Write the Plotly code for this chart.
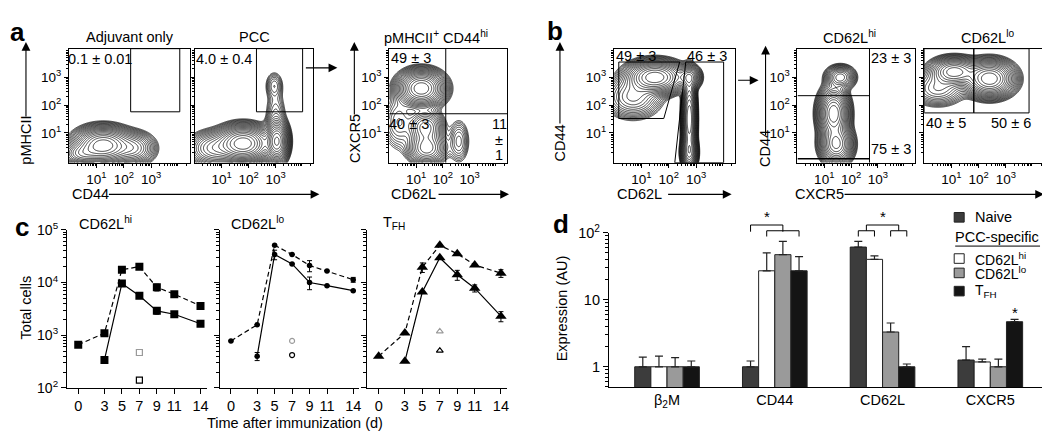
import numpy as np
import plotly.graph_objects as go

W, H = 1050, 432
FONT = "Liberation Sans, Arial, Helvetica, sans-serif"

# ------------------------------------------------------------------ data
# Flow-cytometry density blobs:
# (centre x, centre y, spread x, spread y, weight) in log10 fluorescence units
adj_blobs = [(1.25, 0.55, 0.48, 0.3, 1.0), (2.35, 0.45, 0.38, 0.28, 0.25), (0.45, 0.25, 0.35, 0.2, 0.3)]
pcc_blobs = [(1.8, 0.62, 0.45, 0.3, 1.0), (3.05, 0.7, 0.2, 0.35, 0.85), (2.95, 2.7, 0.17, 0.26, 0.06),
             (3.0, 1.7, 0.2, 0.45, 0.05), (0.7, 0.45, 0.45, 0.3, 0.22)]
tgate_blobs = [(1.2, 2.6, 0.4, 0.3, 1.0), (1.35, 1.2, 0.32, 0.3, 0.3), (1.4, 0.45, 0.35, 0.28, 0.3),
               (2.6, 0.7, 0.2, 0.4, 0.07), (0.35, 1.4, 0.3, 0.5, 0.08)]
b_blobs = [(1.5, 3.0, 0.48, 0.27, 1.0), (0.7, 2.3, 0.48, 0.36, 0.22), (2.75, 1.5, 0.12, 0.72, 0.8),
           (2.75, 0.3, 0.14, 0.28, 0.45), (2.75, 3.0, 0.2, 0.2, 0.35)]
hi_blobs = [(1.6, 3.0, 0.26, 0.2, 0.3), (1.35, 1.7, 0.26, 0.42, 1.0), (1.45, 0.6, 0.28, 0.33, 0.7)]
lo_blobs = [(1.1, 3.2, 0.42, 0.24, 0.6), (2.4, 2.95, 0.42, 0.3, 1.0), (0.5, 2.6, 0.48, 0.3, 0.16)]

flow_ticks = [1, 2, 3]
flow_ticktext = ["10<sup>1</sup>", "10<sup>2</sup>", "10<sup>3</sup>"]

# panel c: total cells vs day
days = [0, 3, 5, 7, 9, 11, 14]
days_solid = [3, 5, 7, 9, 11, 14]
hi_dash = [660, 1090, 17500, 20000, 8100, 6000, 3600]
hi_dash_err = [None, None, None, None, 1200, None, None]
hi_solid = [340, 9600, 5600, 2900, 2500, 1650]
hi_solid_err = [None, None, None, 400, None, None]
hi_open = [470, 140]
lo_dash = [780, 1580, 51000, 34000, 21000, 16500, 11300]
lo_dash_err = [None, None, None, None, 5000, None, 1200]
lo_solid = [400, 34000, 22500, 10000, 8700, 7000]
lo_solid_err = [70, 7000, None, 2700, None, None]
lo_open = [780, 420]
tfh_dash = [400, 1100, 19500, 51000, 35000, 21500, 15000]
tfh_dash_err = [None, None, 4000, None, None, None, 2500]
tfh_solid = [320, 6600, 29500, 14000, 7800, 2300]
tfh_solid_err = [None, None, None, 3000, 1200, 500]
tfh_open = [1180, 510]
c_ticks = [100, 1000, 10000, 100000]
c_ticktext = ["10<sup>2</sup>", "10<sup>3</sup>", "10<sup>4</sup>", "10<sup>5</sup>"]

# panel d: expression
genes = ["β<sub>2</sub>M", "CD44", "CD62L", "CXCR5"]
naive = [1.0, 1.0, 61, 1.26]
naive_err = [0.39, 0.22, 13, 0.74]
cd62lhi = [1.0, 27, 40, 1.18]
cd62lhi_err = [0.44, 23, 5, 0.12]
cd62llo = [1.0, 47, 3.3, 1.0]
cd62llo_err = [0.37, 27, 1.2, 0.3]
tfh = [1.0, 27, 1.0, 4.7]
tfh_err = [0.22, 17, 0.1, 0.4]
d_names = ["Naive", "CD62L<sup>hi</sup>", "CD62L<sup>lo</sup>", "T<sub>FH</sub>"]
d_colors = ["#3c3c3c", "#ffffff", "#9a9a9a", "#141414"]

# ------------------------------------------------------------------ helpers
def PX(x):
    return x / W


def PY(y):
    return 1 - y / H


def aid(i):
    return "" if i == 1 else str(i)


fig = go.Figure()
annotations = []
shapes = []
layout = dict(width=W, height=H, margin=dict(l=0, r=0, t=0, b=0), paper_bgcolor="white",
              plot_bgcolor="white", showlegend=False, font=dict(family=FONT, size=14, color="black"),
              barmode="group", bargap=0.4, bargroupgap=0)

TS = 14.5


def txt(x, y, s, size=TS, xa="center", ya="middle", angle=0):
    annotations.append(dict(x=PX(x), y=PY(y), xref="paper", yref="paper", text=s, showarrow=False,
                            xanchor=xa, yanchor=ya, textangle=angle,
                            font=dict(size=size, family=FONT, color="black")))


def arrow(x0, y0, x1, y1):
    annotations.append(dict(x=PX(x1), y=PY(y1), xref="paper", yref="paper", text="", showarrow=True,
                            ax=x0 - x1, ay=y0 - y1, axref="pixel", ayref="pixel", arrowhead=2,
                            arrowsize=1.6, arrowwidth=1.1, arrowcolor="black", standoff=0))


def seg(x0, y0, x1, y1, xref="paper", yref="paper", w=1.0):
    shapes.append(dict(type="line", x0=x0, y0=y0, x1=x1, y1=y1, xref=xref, yref=yref,
                       line=dict(color="black", width=w)))


# ------------------------------------------------------------------ flow panels
XR = [0, 4.4]
YR = [-0.07, 4.03]
minor_flow = [np.log10(k) + d for d in range(0, 5) for k in range(2, 10) if np.log10(k) + d < 4.4]
gx = np.linspace(XR[0], XR[1], 180)
gy = np.linspace(YR[0], YR[1], 180)
GX, GY = np.meshgrid(gx, gy)

flow_panels = [
    (61, 182, adj_blobs, True),
    (187, 306, pcc_blobs, False),
    (382, 500, tgate_blobs, True),
    (607, 728, b_blobs, True),
    (791, 909, hi_blobs, True),
    (918, 1038, lo_blobs, False),
]
for i, (x0, x1, blobs, ylab) in enumerate(flow_panels, start=1):
    D = np.zeros_like(GX)
    for cx, cy, sx, sy, w in blobs:
        D += w * np.exp(-((GX - cx) ** 2 / (2 * sx ** 2) + (GY - cy) ** 2 / (2 * sy ** 2)))
    Z = np.log10(D / D.max() + 1e-12)
    fig.add_trace(go.Contour(x=gx, y=gy, z=Z, xaxis="x" + aid(i), yaxis="y" + aid(i),
                             autocontour=False, contours=dict(start=-1.9, end=-0.02, size=0.1, coloring="lines"),
                             colorscale=[[0, "#111"], [1, "#111"]], line=dict(width=0.8, smoothing=1),
                             showscale=False, hoverinfo="skip"))
    common = dict(showline=True, mirror=True, linecolor="black", linewidth=1, ticks="outside", ticklen=4,
                  tickwidth=1, tickcolor="black", showgrid=False, zeroline=False, tickvals=flow_ticks,
                  ticktext=flow_ticktext, tickfont=dict(size=13.5),
                  minor=dict(tickmode="array", tickvals=minor_flow, ticks="outside", ticklen=2,
                             tickcolor="black", tickwidth=1))
    layout["xaxis" + aid(i)] = dict(domain=[PX(x0), PX(x1)], range=XR, anchor="y" + aid(i), **common)
    layout["yaxis" + aid(i)] = dict(domain=[PY(151), PY(32)], range=YR, anchor="x" + aid(i),
                                    showticklabels=ylab, **common)

# gates
def rect(i, xa, xb, ya, yb):
    shapes.append(dict(type="rect", x0=xa, x1=xb, y0=ya, y1=yb, xref="x" + aid(i), yref="y" + aid(i),
                       line=dict(color="black", width=1)))


def path(i, pts):
    p = "M " + " L ".join(f"{a},{b}" for a, b in pts) + " Z"
    shapes.append(dict(type="path", path=p, xref="x" + aid(i), yref="y" + aid(i),
                       line=dict(color="black", width=1)))


rect(1, 2.25, 4.04, 1.76, 4.03)
rect(2, 2.29, 4.0, 1.76, 4.03)
seg(2.11, YR[0], 2.11, YR[1], "x3", "y3")
seg(XR[0], 1.69, XR[1], 1.69, "x3", "y3")
path(4, [(0.18, 3.55), (2.4, 3.55), (1.82, 1.52), (0.18, 1.52)])
path(4, [(2.62, 3.55), (4.0, 3.55), (4.0, -0.07), (2.22, -0.07)])
seg(2.69, YR[0], 2.69, YR[1], "x5", "y5")
seg(XR[0], 2.34, 2.69, 2.34, "x5", "y5")
seg(XR[0], 0.07, 2.69, 0.07, "x5", "y5", 1.5)
rect(6, 0, 1.82, 1.72, 4.03)
rect(6, 1.82, 3.85, 1.72, 4.03)

# panel a / b texts
txt(10, 15, "<b>a</b>", 26)
txt(122, 20, "Adjuvant only")
txt(247, 20, "PCC")
txt(429, 20, "pMHCII<sup>+</sup> CD44<sup>hi</sup>")
txt(92, 43, "0.1 ± 0.01")
txt(216, 43, "4.0 ± 0.4")
txt(404, 42, "49 ± 3")
txt(402, 111, "40 ± 3")
txt(492, 111, "11")
txt(492, 127, "±")
txt(492, 143, "1")
txt(18, 127, "pMHCII", angle=-90)
arrow(18, 101, 18, 25)
txt(347, 126, "CXCR5", angle=-90)
arrow(347, 99, 347, 25)
txt(62, 184, "CD44", xa="left")
arrow(100, 184, 312, 184)
txt(382, 184, "CD62L", xa="left")
arrow(430, 184, 502, 184)
arrow(297, 52, 330, 52)

txt(548, 14, "<b>b</b>", 26)
txt(629, 40, "49 ± 3")
txt(700, 40, "46 ± 3")
txt(553, 130, "CD44", angle=-90)
arrow(553, 108, 553, 25)
txt(608, 184, "CD62L", xa="left")
arrow(660, 184, 725, 184)
arrow(730, 65, 752, 65)
txt(843, 20, "CD62L<sup>hi</sup>")
txt(981, 20, "CD62L<sup>lo</sup>")
txt(759, 136, "CD44", angle=-90)
arrow(759, 120, 759, 29)
txt(885, 42, "23 ± 3")
txt(885, 137, "75 ± 3")
txt(940, 110, "40 ± 5")
txt(1005, 110, "50 ± 6")
txt(786, 184, "CXCR5", xa="left")
arrow(837, 184, 1038, 184)

# ------------------------------------------------------------------ panel c
c_minor = [k * 10 ** d for d in range(2, 5) for k in range(2, 10)]
c_panels = [
    (7, 59, 199, "square", 8, 6, hi_dash, hi_dash_err, hi_solid, hi_solid_err, hi_open, True),
    (8, 212, 352, "circle", 5.5, 5, lo_dash, lo_dash_err, lo_solid, lo_solid_err, lo_open, False),
    (9, 360, 500, "triangle-up", 10, 6, tfh_dash, tfh_dash_err, tfh_solid, tfh_solid_err, tfh_open, False),
]
for i, x0, x1, sym, msz, osz, dsh, dsh_e, sol, sol_e, opn, ylab in c_panels:
    xa, ya = "x" + aid(i), "y" + aid(i)
    fig.add_trace(go.Scatter(x=days, y=dsh, xaxis=xa, yaxis=ya, mode="lines+markers",
                             line=dict(color="black", width=1.2, dash="5px,3px"),
                             marker=dict(symbol=sym, size=msz, color="black"),
                             error_y=dict(type="data", array=dsh_e, visible=True, color="black",
                                          thickness=1, width=2.5), hoverinfo="skip"))
    fig.add_trace(go.Scatter(x=days_solid, y=sol, xaxis=xa, yaxis=ya, mode="lines+markers",
                             line=dict(color="black", width=1.2),
                             marker=dict(symbol=sym, size=msz, color="black"),
                             error_y=dict(type="data", array=sol_e, visible=True, color="black",
                                          thickness=1, width=2.5), hoverinfo="skip"))
    fig.add_trace(go.Scatter(x=[7], y=[opn[0]], xaxis=xa, yaxis=ya, mode="markers",
                             marker=dict(symbol=sym + "-open", size=osz, color="#9a9a9a",
                                         line=dict(width=1.2)), hoverinfo="skip"))
    fig.add_trace(go.Scatter(x=[7], y=[opn[1]], xaxis=xa, yaxis=ya, mode="markers",
                             marker=dict(symbol=sym + "-open", size=osz, color="black",
                                         line=dict(width=1.2)), hoverinfo="skip"))
    layout["xaxis" + aid(i)] = dict(domain=[PX(x0), PX(x1)], range=[-1.3, 14.7], anchor=ya,
                                    showline=True, linecolor="black", linewidth=1, ticks="outside",
                                    ticklen=5, tickcolor="black", tickvals=days, showgrid=False,
                                    zeroline=False, tickfont=dict(size=14.5))
    layout["yaxis" + aid(i)] = dict(domain=[PY(386), PY(221)], type="log", range=[2, 5], anchor=xa,
                                    showline=True, linecolor="black", linewidth=1, ticks="outside",
                                    ticklen=5, tickcolor="black", tickvals=c_ticks, ticktext=c_ticktext,
                                    showticklabels=ylab, showgrid=False, zeroline=False,
                                    tickfont=dict(size=14),
                                    minor=dict(tickmode="array", tickvals=c_minor, ticks="outside",
                                               ticklen=3, tickcolor="black"))

txt(14, 218, "<b>c</b>", 26)
txt(69, 214, "CD62L<sup>hi</sup>", xa="left")
txt(221, 214, "CD62L<sup>lo</sup>", xa="left")
txt(374, 214, "T<sub>FH</sub>", xa="left")
txt(18, 302, "Total cells", angle=-90)
txt(288, 423, "Time after immunization (d)", size=14.5)

# ------------------------------------------------------------------ panel d
for vals, errs, col in zip([naive, cd62lhi, cd62llo, tfh],
                           [naive_err, cd62lhi_err, cd62llo_err, tfh_err], d_colors):
    fig.add_trace(go.Bar(x=genes, y=vals, xaxis="x10", yaxis="y10",
                         marker=dict(color=col, line=dict(color="#222", width=1)),
                         error_y=dict(type="data", symmetric=False, array=errs, arrayminus=[0] * 4,
                                      color="#222", thickness=1.2, width=4), hoverinfo="skip"))
d_minor = [k * 10 ** d for d in range(-1, 2) for k in range(2, 10) if k * 10 ** d >= 0.5]
layout["xaxis10"] = dict(domain=[PX(602), PX(1036)], type="category", range=[-0.54, 3.48], anchor="y10",
                         showline=True, linecolor="black", linewidth=1, ticks="", showgrid=False,
                         tickfont=dict(size=14.5))
layout["yaxis10"] = dict(domain=[PY(385), PY(224)], type="log", range=[np.log10(0.5), 2], anchor="x10",
                         showline=True, linecolor="black", linewidth=1, ticks="outside", ticklen=5,
                         tickcolor="black", tickvals=[1, 10, 100], ticktext=["1", "10", "10<sup>2</sup>"],
                         showgrid=False, zeroline=False, tickfont=dict(size=14.5),
                         minor=dict(tickmode="array", tickvals=d_minor, ticks="outside", ticklen=3,
                                    tickcolor="black"))

txt(554, 215, "<b>d</b>", 26)
txt(555, 303, "Expression (AU)", angle=-90)

# significance brackets (category index coordinates)
def bar_x(g, j):
    return g + (j - 1.5) * 0.15


def bracket(xa, xb, ytop, ybot):
    seg(xa, PY(ybot), xa, PY(ytop), "x10", "paper")
    seg(xa, PY(ytop), xb, PY(ytop), "x10", "paper")
    seg(xb, PY(ytop), xb, PY(ybot), "x10", "paper")


bracket(bar_x(1, 1), bar_x(1, 3), 222, 228)
bracket(bar_x(1, 0), bar_x(1, 2), 216, 223)
annotations.append(dict(x=bar_x(1, 1), y=PY(207), xref="x10", yref="paper", text="*", showarrow=False,
                        font=dict(size=15, family=FONT)))
bracket(bar_x(2, 0), bar_x(2, 1), 222, 228)
bracket(bar_x(2, 2), bar_x(2, 3), 222, 228)
bracket((bar_x(2, 0) + bar_x(2, 1)) / 2, (bar_x(2, 2) + bar_x(2, 3)) / 2, 216, 222)
annotations.append(dict(x=bar_x(2, 1.5), y=PY(207), xref="x10", yref="paper", text="*", showarrow=False,
                        font=dict(size=15, family=FONT)))
annotations.append(dict(x=bar_x(3, 3), y=np.log10(tfh[3] + tfh_err[3]), xref="x10", yref="y10", text="*",
                        showarrow=False, yanchor="bottom", yshift=-4, font=dict(size=15, family=FONT)))

# legend
leg_rows = [(208, 0, 14.5), (251, 1, 14), (266, 2, 14), (285, 3, 14)]
for y, j, fs in leg_rows:
    shapes.append(dict(type="rect", x0=PX(948), x1=PX(958), y0=PY(y + 5), y1=PY(y - 5), xref="paper",
                       yref="paper", fillcolor=d_colors[j], line=dict(color="#222", width=1)))
    txt(967, y, d_names[j], size=fs, xa="left")
txt(991, 229, "PCC-specific")
seg(PX(949), PY(238), PX(1034), PY(238))

layout["annotations"] = annotations
layout["shapes"] = shapes
fig.update_layout(**layout)
fig.write_html("out.html")
